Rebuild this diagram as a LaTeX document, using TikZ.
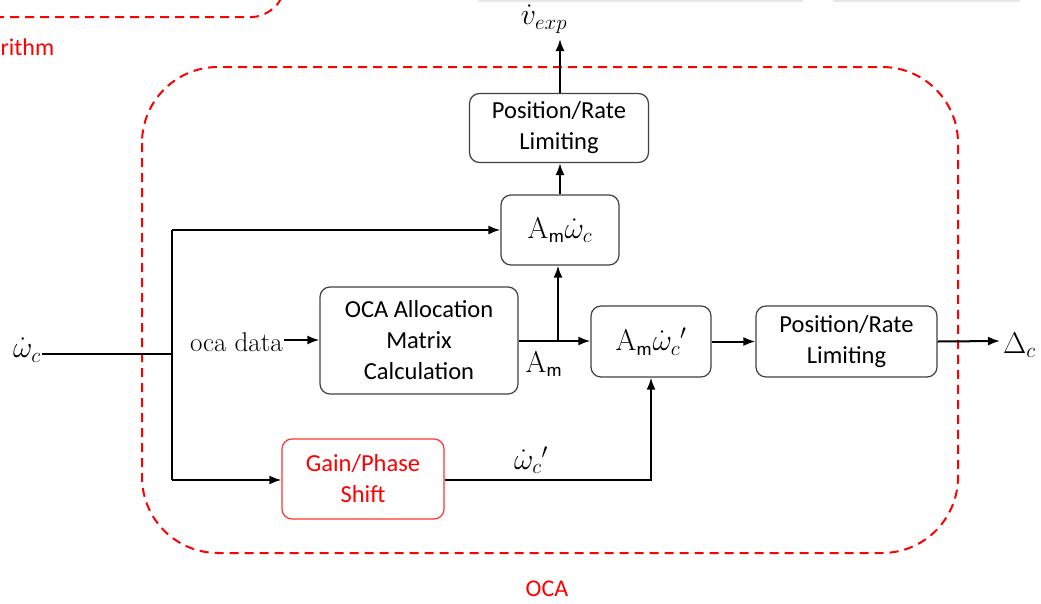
\RequirePackage{fix-cm}
\documentclass[tikz,border=0pt]{standalone}
\usepackage{fontspec}
\newfontfamily\boxfont{Carlito}
\usetikzlibrary{arrows.meta}
\begin{document}
\begin{tikzpicture}[x=1pt,y=-1pt,
  blk/.style={draw=black!75, line width=1.2pt, rounded corners=10pt, align=center,
    font=\boxfont\fontsize{24.5}{31}\selectfont, inner sep=0pt},
  mblk/.style={blk, font=\fontsize{30}{36}\selectfont},
  redblk/.style={blk, draw=red!80, text=red},
  conn/.style={line width=2pt, -{Latex[length=12pt,width=9pt]}},
  plain/.style={line width=2pt},
  reddash/.style={draw=red, line width=2pt, dash pattern=on 9pt off 6pt},
  tlabel/.style={font=\fontsize{27}{30}\selectfont, inner sep=1pt},
  mlabel/.style={font=\fontsize{30}{34}\selectfont, inner sep=1pt},
  redlabel/.style={text=red, font=\boxfont\fontsize{24}{28}\selectfont}]
\useasboundingbox (0,0) rectangle (1041,603);
% faint bars at top
\fill[black!9] (478,0) rectangle (803,2);
\fill[black!9] (833,0) rectangle (1020,2);
% partial dashed box top-left
\draw[reddash, rounded corners=20pt] (-5,17) -- (272,17) -- (290,-20);
\node[redlabel, anchor=west] (rithm) at (-3,47) {rithm};
% OCA dashed region
\draw[reddash, rounded corners=76pt] (142,67) rectangle (958,553);
\node[redlabel] (ocalbl) at (547,589) {OCA};
% blocks
\node[blk, minimum width=179pt, minimum height=69pt] (prt) at (559,128) {Position/Rate\\Limiting};
\node[mblk, minimum width=118pt, minimum height=70pt] (am) at (560,230) {$\mathrm{A}_{\mathsf m}\dot\omega_c$};
\node[blk, minimum width=198pt, minimum height=107pt] (oca) at (419,340.5) {OCA Allocation\\Matrix\\Calculation};
\node[mblk, minimum width=120pt, minimum height=71pt] (amp) at (651,341.5) {$\mathrm{A}_{\mathsf m}\dot\omega_c{}'$};
\node[blk, minimum width=181pt, minimum height=71pt] (prr) at (846.5,341.5) {Position/Rate\\Limiting};
\node[redblk, minimum width=162pt, minimum height=80pt] (gain) at (363,479) {Gain/Phase\\Shift};
% labels
\node[mlabel] (win) at (27,350) {$\dot\omega_c$};
\node[mlabel] (vexp) at (544,19) {$\dot v_{exp}$};
\node[tlabel, anchor=east] (ocadata) at (284,342) {oca data};
\node[mlabel] (amlbl) at (544,364) {$\mathrm{A}_{\mathsf m}$};
\node[mlabel] (wcp) at (531,460) {$\dot\omega_c{}'$};
\node[mlabel, anchor=west] (dc) at (1002,345) {$\Delta_c$};
% coordinates
\coordinate (split) at (172,354);
\coordinate (splittop) at (172,230);
\coordinate (splitbot) at (172,480);
\coordinate (jn) at (558,341);
\coordinate (gcorner) at (651,480);
\coordinate (vtop) at (560,39);
\coordinate (dcend) at (1000,341);
% connectors
\draw[plain] (win.east |- split) -- (split);
\draw[plain] (splittop) -- (splitbot);
\draw[conn] (splittop) -- (am.west);
\draw[conn] (splitbot) -- (gain.west |- splitbot);
\draw[conn] (ocadata.east |- 0,340) -- (oca.west |- 0,340);
\draw[plain] (oca.east |- jn) -- (jn);
\draw[conn] (jn) -- (amp.west |- jn);
\draw[conn] (jn) -- (am.south -| jn);
\draw[conn] (am.north) -- (prt.south -| am.north);
\draw[conn] (prt.north -| vtop) -- (vtop);
\draw[conn] (gain.east |- gcorner) -- (gcorner) -- (amp.south);
\draw[conn] (amp.east) -- (prr.west);
\draw[conn] (prr.east) -- (dcend);
\end{tikzpicture}
\end{document}
